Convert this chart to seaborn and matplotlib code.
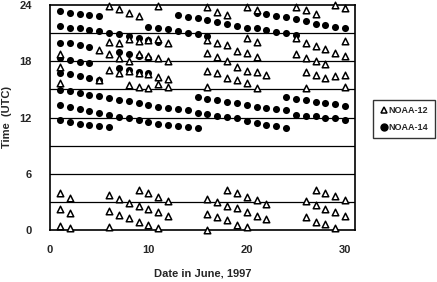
import numpy as np
import pandas as pd
import matplotlib
matplotlib.use("Agg")
import matplotlib.pyplot as plt
import seaborn as sns
from matplotlib.lines import Line2D

# ---------------- data ----------------
# NOAA-12 (open triangles), early-morning passes: day, time (UTC hours)
n12_low_day = [1, 1, 1, 2, 2, 2, 6, 6, 6, 7, 7, 8, 8, 9, 9, 9, 10, 10, 10, 11, 11, 11, 12, 12,
               16, 16, 16, 17, 17, 18, 18, 18, 19, 19, 19, 20, 20, 20, 21, 21, 22, 22,
               26, 26, 27, 27, 27, 28, 28, 28, 29, 29, 29, 30, 30]
n12_low_time = [3.9, 2.2, 0.45, 3.4, 1.8, 0.18, 3.7, 2.0, 0.35, 3.3, 1.6, 2.9, 1.25,
                4.25, 2.55, 0.9, 3.9, 2.2, 0.5, 3.55, 1.95, 0.18, 3.1, 1.5,
                3.35, 1.7, 0.05, 3.0, 1.35, 4.25, 2.55, 1.05, 3.95, 2.3, 0.5,
                3.55, 1.95, 0.28, 3.25, 1.5, 2.8, 1.15,
                3.1, 1.35, 4.3, 2.65, 0.9, 3.95, 2.2, 0.6, 3.6, 1.95, 0.25, 3.25, 1.5]
# NOAA-12, afternoon/evening passes
n12_high_day = [1, 1, 1,
                5, 5,
                6, 6, 6, 6,
                7, 7, 7, 7,
                8, 8, 8, 8, 8,
                9, 9, 9, 9, 9,
                10, 10, 10, 10,
                11, 11, 11, 11, 11,
                12, 12, 12, 12,
                16, 16, 16, 16, 16,
                17, 17, 17, 17,
                18, 18, 18, 18,
                19, 19, 19,
                20, 20, 20, 20, 20,
                21, 21, 21, 21, 21,
                22,
                25, 25, 25,
                26, 26, 26, 26, 26,
                27, 27, 27, 27,
                28, 28, 28,
                29, 29, 29,
                30, 30, 30, 30, 30]
n12_high_time = [18.8, 17.4, 15.7,
                 19.2, 16.0,
                 23.9, 20.1, 18.8, 17.1,
                 23.6, 19.9, 18.4, 16.8,
                 23.1, 20.4, 18.0, 17.0, 15.5,
                 22.8, 20.2, 18.8, 16.7, 15.3,
                 20.3, 18.6, 16.6, 15.2,
                 23.9, 20.4, 18.3, 16.3, 15.6,
                 20.0, 18.0, 16.1, 15.3,
                 23.8, 20.3, 18.9, 17.0, 15.3,
                 23.25, 19.9, 18.5, 16.7,
                 22.9, 19.7, 18.0, 16.2,
                 19.1, 17.4, 16.0,
                 23.8, 20.5, 18.9, 17.0, 15.7,
                 23.5, 20.1, 18.5, 16.9, 15.2,
                 16.5,
                 23.8, 20.5, 18.8,
                 23.5, 20.0, 18.35, 16.9, 15.1,
                 23.0, 19.65, 18.0, 16.5,
                 19.35, 17.75, 16.2,
                 24.0, 18.9, 16.4,
                 23.7, 20.15, 18.6, 16.5, 15.3]

# NOAA-14 (filled circles), one block per pass track
n14_day = ([1, 2, 3, 4, 5, 10, 11, 12, 13, 14, 15, 16] +
           [13, 14, 15, 16, 17, 18, 19, 20, 21, 22, 23, 24, 25] +
           [21, 22, 23, 24, 25, 26, 27, 28, 29, 30] +
           [1, 2, 3, 4, 5, 6, 7, 8, 9, 10, 11] +
           [1, 2, 3, 4, 7, 8, 9, 10] +
           [1, 2, 3, 4, 7, 8, 9, 10] +
           [1, 2, 3, 4, 5] +
           list(range(15, 31)) +
           list(range(1, 25)) +
           list(range(24, 31)) +
           list(range(1, 16)) +
           [1, 2, 3, 4, 5, 6])
n14_time = ([23.4, 23.2, 23.0, 22.9, 22.8, 21.7, 21.6, 21.4, 21.2, 21.0, 20.9, 20.7] +
            [22.9, 22.7, 22.6, 22.4, 22.2, 22.0, 21.8, 21.6, 21.5, 21.3, 21.1, 21.0, 20.8] +
            [23.2, 23.0, 22.8, 22.7, 22.5, 22.3, 22.0, 21.9, 21.7, 21.5] +
            [21.8, 21.6, 21.5, 21.3, 21.2, 21.0, 20.9, 20.7, 20.5, 20.3, 20.1] +
            [20.0, 19.9, 19.7, 19.5, 19.0, 18.8, 18.6, 18.4] +
            [18.3, 18.1, 17.9, 17.8, 17.3, 17.1, 16.9, 16.8] +
            [16.8, 16.6, 16.4, 16.2, 16.0] +
            [14.2, 14.0, 13.9, 13.7, 13.5, 13.3, 13.1, 13.0, 12.9, 12.8, 12.3, 12.2, 12.2,
             12.0, 11.9, 11.7] +
            [14.9, 14.8, 14.6, 14.4, 14.25, 14.1, 13.9, 13.75, 13.55, 13.3, 13.15, 13.0,
             12.9, 12.75, 12.5, 12.35, 12.2, 12.05, 11.9, 11.6, 11.4, 11.2, 11.1, 10.9] +
            [14.2, 14.0, 13.9, 13.7, 13.6, 13.4, 13.2] +
            [13.3, 13.1, 12.9, 12.7, 12.5, 12.3, 12.1, 11.9, 11.7, 11.5, 11.3, 11.2, 11.1,
             11.0, 10.85] +
            [11.7, 11.5, 11.3, 11.2, 11.05, 10.95])

legend_labels = ["NOAA-12", "NOAA-14"]
x_ticks = [0, 10, 20, 30]
y_ticks = [0, 6, 12, 18, 24]
grid_hours = [3, 6, 9, 12, 15, 18, 21]

df = pd.concat([
    pd.DataFrame({"day": n12_low_day + n12_high_day,
                  "time": n12_low_time + n12_high_time, "sat": legend_labels[0]}),
    pd.DataFrame({"day": n14_day, "time": n14_time, "sat": legend_labels[1]}),
], ignore_index=True)

# ---------------- plot ----------------
sns.set_style("white")
plt.rcParams["font.family"] = ["Liberation Sans Narrow", "Liberation Sans", "DejaVu Sans"]

fig = plt.figure(figsize=(4.37, 2.82), dpi=100)
ax = fig.add_axes([50 / 437, 1 - 230 / 282, 305 / 437, 225 / 282])

for h in grid_hours:
    ax.axhline(h, color="black", lw=0.9, zorder=1)

sub12 = df[df.sat == legend_labels[0]]
sub14 = df[df.sat == legend_labels[1]]
sns.scatterplot(data=sub14, x="day", y="time", ax=ax, marker="o", s=26,
                color="black", edgecolor="black", linewidth=0, zorder=3, legend=False,
                clip_on=False)
sns.scatterplot(data=sub12, x="day", y="time", ax=ax, marker="^", s=22,
                facecolor="white", edgecolor="black", linewidth=1.1, zorder=4, legend=False,
                clip_on=False)

ax.set_xlim(0, 31)
ax.set_ylim(0, 24)
ax.set_xticks(x_ticks)
ax.set_yticks(y_ticks)
ax.tick_params(axis="y", length=0, pad=13, labelsize=8)
ax.tick_params(axis="x", length=0, pad=11, labelsize=8)
for lab in ax.get_xticklabels() + ax.get_yticklabels():
    lab.set_fontweight("bold")
for s in ax.spines.values():
    s.set_color("black")
    s.set_linewidth(1.2)
ax.set_xlabel("Date in June, 1997", fontsize=8, fontweight="bold")
ax.set_ylabel("Time  (UTC)", fontsize=8, fontweight="bold")
ax.xaxis.set_label_coords(0.5, -0.17)
ax.yaxis.set_label_coords(-0.125, 0.5)

handles = [Line2D([], [], marker="^", ls="", markerfacecolor="white",
                  markeredgecolor="black", markersize=5, markeredgewidth=1.1),
           Line2D([], [], marker="o", ls="", color="black", markersize=5)]
fig.legend(handles, legend_labels, loc="center", bbox_to_anchor=(404 / 437, 1 - 119 / 282),
           frameon=True, fancybox=False, edgecolor="black",
           handletextpad=0.0, handlelength=1.0, borderpad=0.7, labelspacing=0.9,
           prop={"weight": "bold", "size": 6.5})

fig.savefig("out.png", dpi=100)
